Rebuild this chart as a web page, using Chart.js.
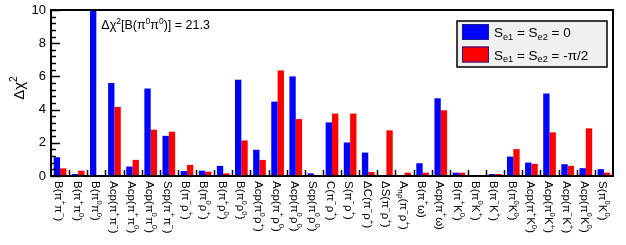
<!DOCTYPE html>
<html>
<head>
<meta charset="utf-8">
<script src="https://cdn.jsdelivr.net/npm/chart.js@4/dist/chart.umd.min.js"></script>
<style>
html,body{margin:0;padding:0;background:#fff;}
#wrap{width:626px;height:245px;position:relative;}
</style>
</head>
<body>
<div id="wrap"><canvas id="c" width="626" height="245"></canvas></div>
<script>
// ---- data ----
const categories = [
  "B(π^{+}π^{-})","B(π^{+}π^{0})","B(π^{0}π^{0})","Acp(π^{+}π^{-})","Acp(π^{+}π^{0})",
  "Acp(π^{0}π^{0})","Scp(π^{+}π^{-})","B(π^{-}ρ^{+})","B(π^{0}ρ^{+})","B(π^{+}ρ^{0})",
  "B(π^{0}ρ^{0})","Acp(π^{0}ρ^{+})","Acp(π^{+}ρ^{0})","Acp(π^{0}ρ^{0})","Scp(π^{0}ρ^{0})",
  "C(π^{-}ρ^{+})","S(π^{-}ρ^{+})","ΔC(π^{-}ρ^{+})","ΔS(π^{-}ρ^{+})","A_{πρ}(π^{-}ρ^{+})",
  "B(π^{+}ω)","Acp(π^{+}ω)","B(π^{+}K^{0})","B(π^{0}K^{+})","B(π^{-}K^{+})",
  "B(π^{0}K^{0})","Acp(π^{+}K^{0})","Acp(π^{0}K^{+})","Acp(π^{-}K^{+})","Acp(π^{0}K^{0})",
  "S(π^{0}K^{0})"
];
const seriesZero = [1.13,0.12,21.3,5.6,0.57,5.27,2.42,0.3,0.32,0.61,5.8,1.58,4.48,6.0,0.16,3.23,2.02,1.41,0,0,0.77,4.68,0.2,0.02,0.12,1.17,0.81,4.97,0.71,0.47,0.41];
const seriesHalfPi = [0.46,0.32,0.02,4.16,0.97,2.79,2.67,0.67,0.26,0.16,2.14,0.97,6.36,3.43,0.06,3.76,3.76,0.24,2.75,0.2,0.2,3.96,0.2,0.02,0.12,1.62,0.73,2.63,0.61,2.87,0.2];
const seriesLabels = ["S_{e1} = S_{e2} = 0", "S_{e1} = S_{e2} = -π/2"];
const yTickValues = [0,2,4,6,8,10];
const yTitle = "Δχ^{2}";
const notedIndex = 2;

// ---- rich text helpers ----
const FAM = '"Liberation Sans", Arial, Helvetica, sans-serif';
function parseRich(s){
  const segs=[]; let buf=''; let i=0;
  while(i<s.length){
    const ch=s[i];
    if((ch==='^'||ch==='_') && s[i+1]==='{'){
      if(buf){segs.push({t:buf,m:0});buf='';}
      const end=s.indexOf('}',i+2);
      let t=s.slice(i+2,end);
      if(ch==='^') t=t.replace('-','−');
      segs.push({t:t,m:ch==='^'?1:-1});
      i=end+1;
    } else {buf+=ch;i++;}
  }
  if(buf) segs.push({t:buf,m:0});
  return segs;
}
function richWidth(ctx,s,size){
  let w=0;
  for(const g of parseRich(s)){
    const sz=g.m?size*0.68:size;
    ctx.font=sz+'px '+FAM; w+=ctx.measureText(g.t).width;
  }
  return w;
}
function drawRich(ctx,s,x,y,size){
  let cx=x;
  for(const g of parseRich(s)){
    const sz=g.m?size*0.68:size;
    ctx.font=sz+'px '+FAM;
    const dy = g.m===1 ? -size*0.40 : (g.m===-1 ? size*0.22 : 0);
    ctx.fillText(g.t,cx,y+dy);
    cx+=ctx.measureText(g.t).width;
  }
  return cx-x;
}

const decor = {
  id:'decor',
  afterDatasetsDraw(chart){
    const ctx=chart.ctx, a=chart.chartArea, xs=chart.scales.x, ys=chart.scales.y;
    ctx.save();
    ctx.fillStyle='#000'; ctx.strokeStyle='#000';
    // frame
    ctx.lineWidth=2;
    ctx.strokeRect(a.left,a.top,a.right-a.left,a.bottom-a.top);
    // y ticks (inside)
    ctx.lineWidth=1.5;
    const ymin=ys.min, ymax=ys.max, step=yTickValues[1]-yTickValues[0];
    for(let v=ymin; v<=ymax+1e-9; v+=step/5){
      const y=Math.round(ys.getPixelForValue(v))+0.5;
      const major=Math.abs(v/step-Math.round(v/step))<1e-6;
      ctx.beginPath(); ctx.moveTo(a.left,y); ctx.lineTo(a.left+(major?9:5),y); ctx.stroke();
    }
    // y labels
    ctx.textAlign='right'; ctx.textBaseline='middle'; ctx.font='13px '+FAM;
    for(const v of yTickValues){
      ctx.fillText(String(v), a.left-5, ys.getPixelForValue(v));
    }
    // x ticks at category boundaries
    ctx.lineWidth=1.5;
    for(let i=0;i<categories.length-1;i++){
      const x=Math.round((xs.getPixelForTick(i)+xs.getPixelForTick(i+1))/2)+0.5;
      ctx.beginPath(); ctx.moveTo(x,a.bottom); ctx.lineTo(x,a.bottom-6); ctx.stroke();
    }
    // x labels rotated clockwise
    ctx.textAlign='left'; ctx.textBaseline='middle';
    for(let i=0;i<categories.length;i++){
      const x=xs.getPixelForTick(i)-1.5;
      ctx.save(); ctx.translate(x,a.bottom+5); ctx.rotate(Math.PI/2);
      drawRich(ctx,categories[i],0,0,11.5);
      ctx.restore();
    }
    // y title
    ctx.save(); ctx.translate(20, a.top+(a.bottom-a.top)*0.47); ctx.rotate(-Math.PI/2);
    ctx.textBaseline='middle';
    const tw=richWidth(ctx,yTitle,15);
    drawRich(ctx,yTitle,-tw/2,0,15);
    ctx.restore();
    // annotation
    ctx.textBaseline='alphabetic';
    const noted = chart.data.datasets[0].data[notedIndex];
    drawRich(ctx,"Δχ^{2}[B(π^{0}π^{0})] = "+noted.toFixed(1), xs.getPixelForTick(notedIndex)+5, a.top+19, 12.5);
    // legend
    const lx=457, ly=21, lw=150, lh=46;
    ctx.fillStyle='#f0f0f0'; ctx.fillRect(lx,ly,lw,lh);
    ctx.lineWidth=1.5; ctx.strokeStyle='#000'; ctx.strokeRect(lx,ly,lw,lh);
    chart.data.datasets.forEach((ds,k)=>{
      const by = ly+3+k*22.5;
      ctx.fillStyle=ds.backgroundColor; ctx.fillRect(lx+5,by,27,16);
      ctx.lineWidth=1; ctx.strokeStyle='#1c1c8c'; ctx.strokeRect(lx+5.5,by+0.5,26,15);
      ctx.fillStyle='#000'; ctx.textBaseline='alphabetic';
      drawRich(ctx,ds.label,lx+37,by+13,13.5);
    });
    ctx.restore();
  }
};

new Chart(document.getElementById('c'),{
  type:'bar',
  data:{
    labels:categories,
    datasets:[
      {label:seriesLabels[0],data:seriesZero,backgroundColor:'#0000ff',borderWidth:0,categoryPercentage:0.7,barPercentage:1.0},
      {label:seriesLabels[1],data:seriesHalfPi,backgroundColor:'#ff0000',borderWidth:0,categoryPercentage:0.7,barPercentage:1.0}
    ]
  },
  options:{
    responsive:false, animation:false, devicePixelRatio:1,
    layout:{padding:{top:10,right:13,left:0,bottom:0}},
    plugins:{legend:{display:false},tooltip:{enabled:false}},
    scales:{
      x:{grid:{display:false},border:{display:false},ticks:{display:false},afterFit(s){s.height=69;}},
      y:{min:0,max:10,grid:{display:false},border:{display:false},ticks:{display:false,stepSize:2},afterFit(s){s.width=51;}}
    }
  },
  plugins:[decor]
});
</script>
</body>
</html>
